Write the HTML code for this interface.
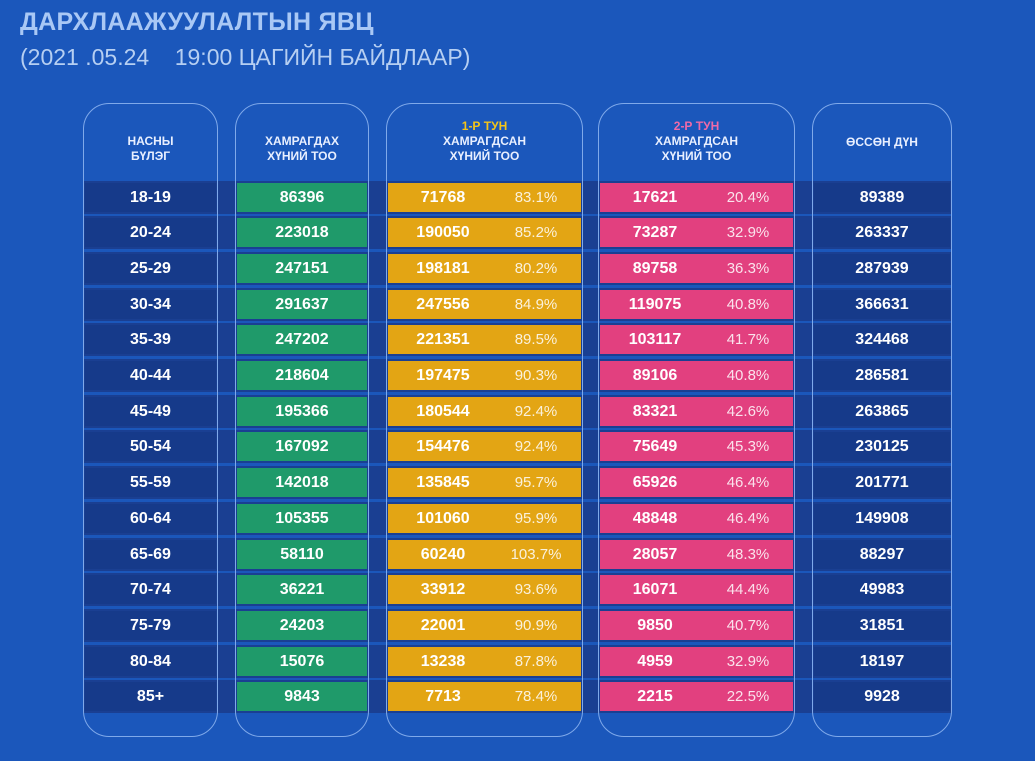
<!DOCTYPE html><html><head><meta charset="utf-8"><style>
body{margin:0;width:1035px;height:761px;overflow:hidden;background:#1b57bb;font-family:"Liberation Sans",sans-serif;position:relative}
.t1{position:absolute;left:20px;top:8px;font-size:25px;font-weight:bold;color:#a9c8f5;letter-spacing:0.3px}
.t2{position:absolute;left:20px;top:44px;font-size:23px;color:#b6cff2}
.box{position:absolute;top:103px;height:634px;border:1.5px solid #7fa9ea;border-radius:26px;box-sizing:border-box}
.h{position:absolute;text-align:center;color:#e8efff;font-size:12px;font-weight:bold;line-height:15px}
.band{position:absolute;left:83px;width:868px;height:33px;background:#1a3f92}
.c{position:absolute;height:29px;color:#fff;font-weight:bold;font-size:16px;line-height:29px;text-align:center}
.p{font-weight:normal;opacity:.85;font-size:15px}
</style></head><body>
<div class="t1">ДАРХЛААЖУУЛАЛТЫН ЯВЦ</div>
<div class="t2">(2021 .05.24 &nbsp;&nbsp;&nbsp;19:00 ЦАГИЙН БАЙДЛААР)</div>
<div id="rows"></div>
<div class="box" style="left:83px;width:135px"></div>
<div class="box" style="left:235px;width:134px"></div>
<div class="box" style="left:386px;width:197px"></div>
<div class="box" style="left:598px;width:197px"></div>
<div class="box" style="left:812px;width:140px"></div>
<div class="h" style="left:83px;width:135px;top:134px">НАСНЫ<br>БҮЛЭГ</div>
<div class="h" style="left:235px;width:134px;top:134px">ХАМРАГДАХ<br>ХҮНИЙ ТОО</div>
<div class="h" style="left:386px;width:197px;top:119px"><span style="color:#f5c518">1-Р ТУН</span><br>ХАМРАГДСАН<br>ХҮНИЙ ТОО</div>
<div class="h" style="left:598px;width:197px;top:119px"><span style="color:#f06aa8">2-Р ТУН</span><br>ХАМРАГДСАН<br>ХҮНИЙ ТОО</div>
<div class="h" style="left:812px;width:140px;top:135px">ӨССӨН ДҮН</div>
<script>
const d=[["18-19",86396,71768,"83.1%",17621,"20.4%",89389],["20-24",223018,190050,"85.2%",73287,"32.9%",263337],["25-29",247151,198181,"80.2%",89758,"36.3%",287939],["30-34",291637,247556,"84.9%",119075,"40.8%",366631],["35-39",247202,221351,"89.5%",103117,"41.7%",324468],["40-44",218604,197475,"90.3%",89106,"40.8%",286581],["45-49",195366,180544,"92.4%",83321,"42.6%",263865],["50-54",167092,154476,"92.4%",75649,"45.3%",230125],["55-59",142018,135845,"95.7%",65926,"46.4%",201771],["60-64",105355,101060,"95.9%",48848,"46.4%",149908],["65-69",58110,60240,"103.7%",28057,"48.3%",88297],["70-74",36221,33912,"93.6%",16071,"44.4%",49983],["75-79",24203,22001,"90.9%",9850,"40.7%",31851],["80-84",15076,13238,"87.8%",4959,"32.9%",18197],["85+",9843,7713,"78.4%",2215,"22.5%",9928]];
let h="";d.forEach((r,i)=>{const y=180.5+i*35.7;
h+=`<div class="band" style="top:${y}px"></div>
<div class="c" style="top:${y+2}px;left:85px;width:131px;background:#163a8a">${r[0]}</div>
<div class="c" style="top:${y+2}px;left:237px;width:130px;background:#1f9a6a">${r[1]}</div>
<div class="c" style="top:${y+2}px;left:388px;width:193px;background:#e3a514"><span style="position:absolute;left:0;width:110px">${r[2]}</span><span class="p" style="position:absolute;left:110px;width:76px">${r[3]}</span></div>
<div class="c" style="top:${y+2}px;left:600px;width:193px;background:#e2407f"><span style="position:absolute;left:0;width:110px">${r[4]}</span><span class="p" style="position:absolute;left:110px;width:76px">${r[5]}</span></div>
<div class="c" style="top:${y+2}px;left:814px;width:136px;background:#163a8a">${r[6]}</div>`});
document.getElementById("rows").innerHTML=h;
</script>
</body></html>
